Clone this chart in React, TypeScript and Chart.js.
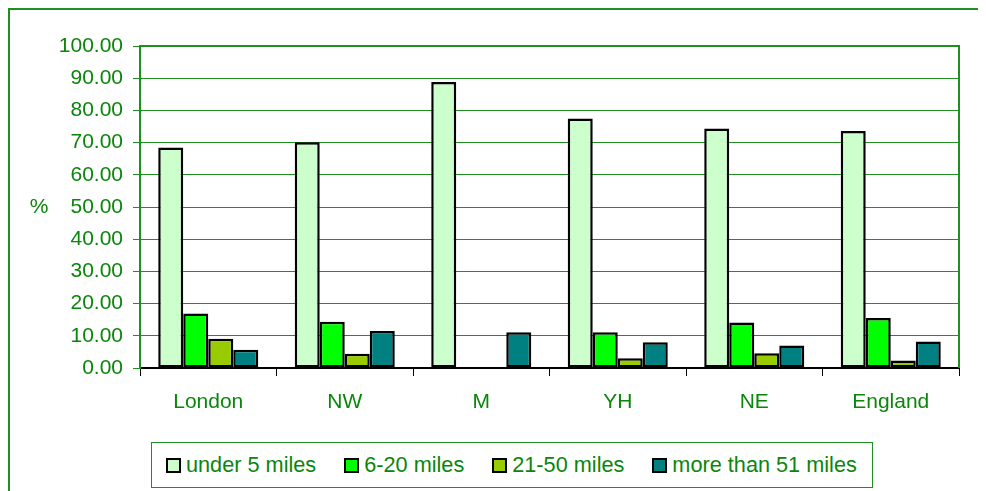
import React, { useEffect, useRef } from "react";
import { Chart, registerables } from "chart.js";

Chart.register(...registerables);

const categories = ["London", "NW", "M", "YH", "NE", "England"];
const seriesNames = ["under 5 miles", "6-20 miles", "21-50 miles", "more than 51 miles"];
const under5 = [68.5, 70.1, 88.8, 77.5, 74.4, 73.6];
const miles6to20 = [16.9, 14.4, 0, 11.1, 14.1, 15.5];
const miles21to50 = [9.1, 4.4, 0, 3.0, 4.6, 2.3];
const over51 = [5.7, 11.5, 11.1, 8.0, 7.0, 8.2];
const seriesColors = ["#CCFFCC", "#00FF00", "#99CC00", "#008080"];
const yTicks = [0, 10, 20, 30, 40, 50, 60, 70, 80, 90, 100];

const GREEN_TEXT = "#0a860a";
const GREEN_LINE = "#1f8f1f";
const FONT = "'Liberation Sans', Arial, sans-serif";

export default function App() {
  const ref = useRef<HTMLCanvasElement | null>(null);

  useEffect(() => {
    if (!ref.current) return;
    const values = [under5, miles6to20, miles21to50, over51];
    const framePlugin = {
      id: "frame",
      afterDraw(chart: any) {
        const { ctx, chartArea } = chart;
        ctx.save();
        ctx.strokeStyle = GREEN_LINE;
        ctx.lineWidth = 2;
        ctx.beginPath();
        ctx.moveTo(chartArea.left, chartArea.top);
        ctx.lineTo(chartArea.right, chartArea.top);
        ctx.lineTo(chartArea.right, chartArea.bottom);
        ctx.stroke();
        ctx.fillStyle = GREEN_TEXT;
        ctx.font = `21px ${FONT}`;
        ctx.textAlign = "center";
        ctx.textBaseline = "middle";
        ctx.fillText("%", 29, (chartArea.top + chartArea.bottom) / 2);
        ctx.restore();
      },
    };
    const chart = new Chart(ref.current, {
      type: "bar",
      data: {
        labels: categories,
        datasets: seriesNames.map((name, i) => ({
          label: name,
          data: values[i],
          backgroundColor: seriesColors[i],
          borderColor: "#000000",
          borderWidth: 2.5,
          borderSkipped: false,
          categoryPercentage: 0.733,
          barPercentage: 1,
        })),
      },
      options: {
        animation: false,
        responsive: true,
        maintainAspectRatio: false,
        layout: { padding: { top: 36, right: 27, left: 0, bottom: 0 } },
        plugins: { legend: { display: false }, tooltip: { enabled: false } },
        scales: {
          x: {
            offset: true,
            grid: {
              display: true,
              drawOnChartArea: false,
              drawTicks: true,
              tickLength: 8,
              color: "#000000",
              lineWidth: 1,
            },
            border: { display: true, color: "#000000", width: 2 },
            ticks: {
              color: GREEN_TEXT,
              font: { family: FONT, size: 21 },
              padding: 14,
              maxRotation: 0,
            },
            afterFit: (s: any) => {
              s.height = 123;
            },
          },
          y: {
            min: 0,
            max: 100,
            afterBuildTicks: (s: any) => {
              s.ticks = yTicks.map((v) => ({ value: v }));
            },
            ticks: {
              color: GREEN_TEXT,
              font: { family: FONT, size: 21 },
              padding: 10,
              callback: (v: any) => Number(v).toFixed(2),
            },
            grid: {
              color: GREEN_LINE,
              lineWidth: 1,
              tickLength: 7,
              tickColor: GREEN_LINE,
            },
            border: { display: true, color: GREEN_LINE, width: 2 },
            afterFit: (s: any) => {
              s.width = 130;
            },
          },
        },
      },
      plugins: [framePlugin],
    } as any);
    return () => chart.destroy();
  }, []);

  return (
    <>
      <style>{"html,body{overflow:hidden;}"}</style>
      <div
        style={{
          position: "relative",
          width: 1100,
          height: 483,
          borderTop: `2px solid ${GREEN_LINE}`,
          borderLeft: `2px solid ${GREEN_LINE}`,
          boxSizing: "border-box",
        }}
      >
        <div style={{ position: "absolute", left: 0, top: 0, width: 976, height: 481 }}>
          <canvas ref={ref} />
        </div>
        <div
          style={{
            position: "absolute",
            left: 141,
            top: 432,
            width: 722,
            height: 46,
            border: `1px solid ${GREEN_LINE}`,
            boxSizing: "border-box",
            display: "flex",
            alignItems: "center",
            justifyContent: "flex-start",
            paddingLeft: 14,
            gap: 28,
            fontFamily: FONT,
            fontSize: 21.7,
            color: GREEN_TEXT,
            background: "#ffffff",
          }}
        >
          {seriesNames.map((name, i) => (
            <div key={name} style={{ display: "flex", alignItems: "center" }}>
              <span
                style={{
                  display: "inline-block",
                  width: 15,
                  height: 15,
                  boxSizing: "border-box",
                  border: "2px solid #000",
                  background: seriesColors[i],
                  marginRight: 5,
                }}
              />
              <span style={{ lineHeight: "24px" }}>{name}</span>
            </div>
          ))}
        </div>
      </div>
    </>
  );
}
